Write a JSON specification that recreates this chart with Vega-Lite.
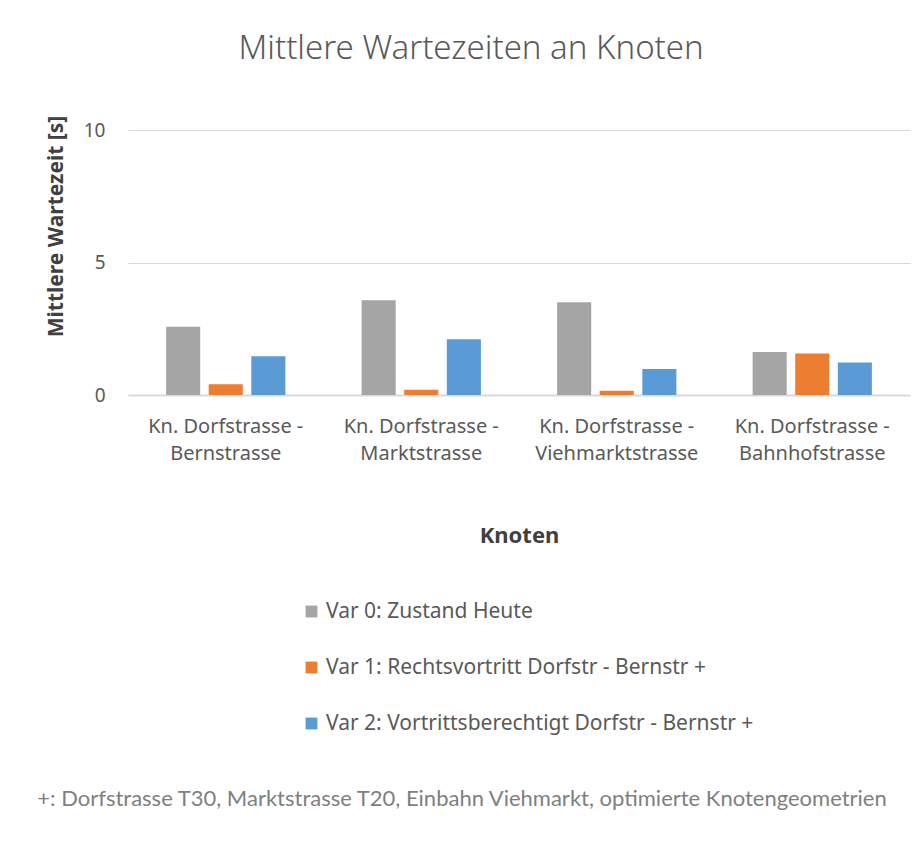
{
  "$schema": "https://vega.github.io/schema/vega-lite/v6.json",
  "background": "white",
  "padding": {"left": 36, "top": 33, "right": 5, "bottom": 5},
  "title": {
    "text": "Mittlere Wartezeiten an Knoten",
    "font": "Noto Sans",
    "fontSize": 33,
    "fontWeight": 300,
    "color": "#595959",
    "anchor": "middle",
    "offset": 49,
    "dx": -2
  },
  "vconcat": [
    {
      "width": 782,
      "height": 265,
      "title": {
        "text": "+: Dorfstrasse T30, Marktstrasse T20, Einbahn Viehmarkt, optimierte Knotengeometrien",
        "orient": "bottom",
        "font": "Lato",
        "fontSize": 22,
        "fontWeight": "normal",
        "color": "#7f7f7f",
        "anchor": "middle",
        "offset": 243,
        "dx": -57
      },
      "data": {
        "values": [
          {"knoten": "Kn. Dorfstrasse - Bernstrasse", "variante": "Var 0: Zustand Heute", "wartezeit": 2.58},
          {"knoten": "Kn. Dorfstrasse - Bernstrasse", "variante": "Var 1: Rechtsvortritt Dorfstr - Bernstr +", "wartezeit": 0.41},
          {"knoten": "Kn. Dorfstrasse - Bernstrasse", "variante": "Var 2: Vortrittsberechtigt Dorfstr - Bernstr +", "wartezeit": 1.46},
          {"knoten": "Kn. Dorfstrasse - Marktstrasse", "variante": "Var 0: Zustand Heute", "wartezeit": 3.58},
          {"knoten": "Kn. Dorfstrasse - Marktstrasse", "variante": "Var 1: Rechtsvortritt Dorfstr - Bernstr +", "wartezeit": 0.2},
          {"knoten": "Kn. Dorfstrasse - Marktstrasse", "variante": "Var 2: Vortrittsberechtigt Dorfstr - Bernstr +", "wartezeit": 2.1},
          {"knoten": "Kn. Dorfstrasse - Viehmarktstrasse", "variante": "Var 0: Zustand Heute", "wartezeit": 3.5},
          {"knoten": "Kn. Dorfstrasse - Viehmarktstrasse", "variante": "Var 1: Rechtsvortritt Dorfstr - Bernstr +", "wartezeit": 0.16},
          {"knoten": "Kn. Dorfstrasse - Viehmarktstrasse", "variante": "Var 2: Vortrittsberechtigt Dorfstr - Bernstr +", "wartezeit": 0.98},
          {"knoten": "Kn. Dorfstrasse - Bahnhofstrasse", "variante": "Var 0: Zustand Heute", "wartezeit": 1.62},
          {"knoten": "Kn. Dorfstrasse - Bahnhofstrasse", "variante": "Var 1: Rechtsvortritt Dorfstr - Bernstr +", "wartezeit": 1.57},
          {"knoten": "Kn. Dorfstrasse - Bahnhofstrasse", "variante": "Var 2: Vortrittsberechtigt Dorfstr - Bernstr +", "wartezeit": 1.23}
        ]
      },
      "mark": {"type": "bar"},
      "encoding": {
        "x": {
          "field": "knoten",
          "type": "nominal",
          "sort": null,
          "title": "Knoten",
          "scale": {"paddingInner": 0.39, "paddingOuter": 0.195},
          "axis": {
            "labelAngle": 0,
            "labelExpr": "[slice(datum.label, 0, 17), slice(datum.label, 18)]",
            "labelFont": "Noto Sans",
            "labelFontSize": 20,
            "labelColor": "#595959",
            "labelLineHeight": 27,
            "labelPadding": 21,
            "ticks": false,
            "domainColor": "#d9d9d9",
            "domainWidth": 2,
            "titleFont": "Noto Sans",
            "titleFontSize": 22,
            "titleFontWeight": "bold",
            "titleColor": "#404040",
            "titlePadding": 62
          }
        },
        "xOffset": {
          "field": "variante",
          "type": "nominal",
          "sort": null,
          "scale": {"paddingInner": 0.2, "paddingOuter": 0}
        },
        "y": {
          "field": "wartezeit",
          "type": "quantitative",
          "title": "Mittlere Wartezeit [s]",
          "scale": {"domain": [0, 10]},
          "axis": {
            "values": [0, 5, 10],
            "grid": true,
            "gridColor": "#d9d9d9",
            "gridWidth": 1,
            "domain": false,
            "ticks": false,
            "labelFont": "Noto Sans",
            "labelFontSize": 19,
            "labelColor": "#595959",
            "labelPadding": 23,
            "titleFont": "Noto Sans",
            "titleFontSize": 21,
            "titleFontWeight": "bold",
            "titleColor": "#404040",
            "titleX": -62,
            "titleY": 96
          }
        },
        "color": {
          "field": "variante",
          "type": "nominal",
          "sort": null,
          "scale": {"range": ["#a5a5a5", "#ed7d31", "#5b9bd5"]},
          "legend": {
            "orient": "none",
            "legendX": 173,
            "legendY": 471,
            "direction": "vertical",
            "title": null,
            "symbolType": "square",
            "symbolSize": 140,
            "symbolStrokeWidth": 0,
            "labelFont": "Noto Sans",
            "labelFontSize": 21,
            "labelColor": "#595959",
            "labelOffset": 4,
            "labelLimit": 600,
            "rowPadding": 34
          }
        }
      }
    }
  ],
  "config": {"view": {"stroke": null}}
}
